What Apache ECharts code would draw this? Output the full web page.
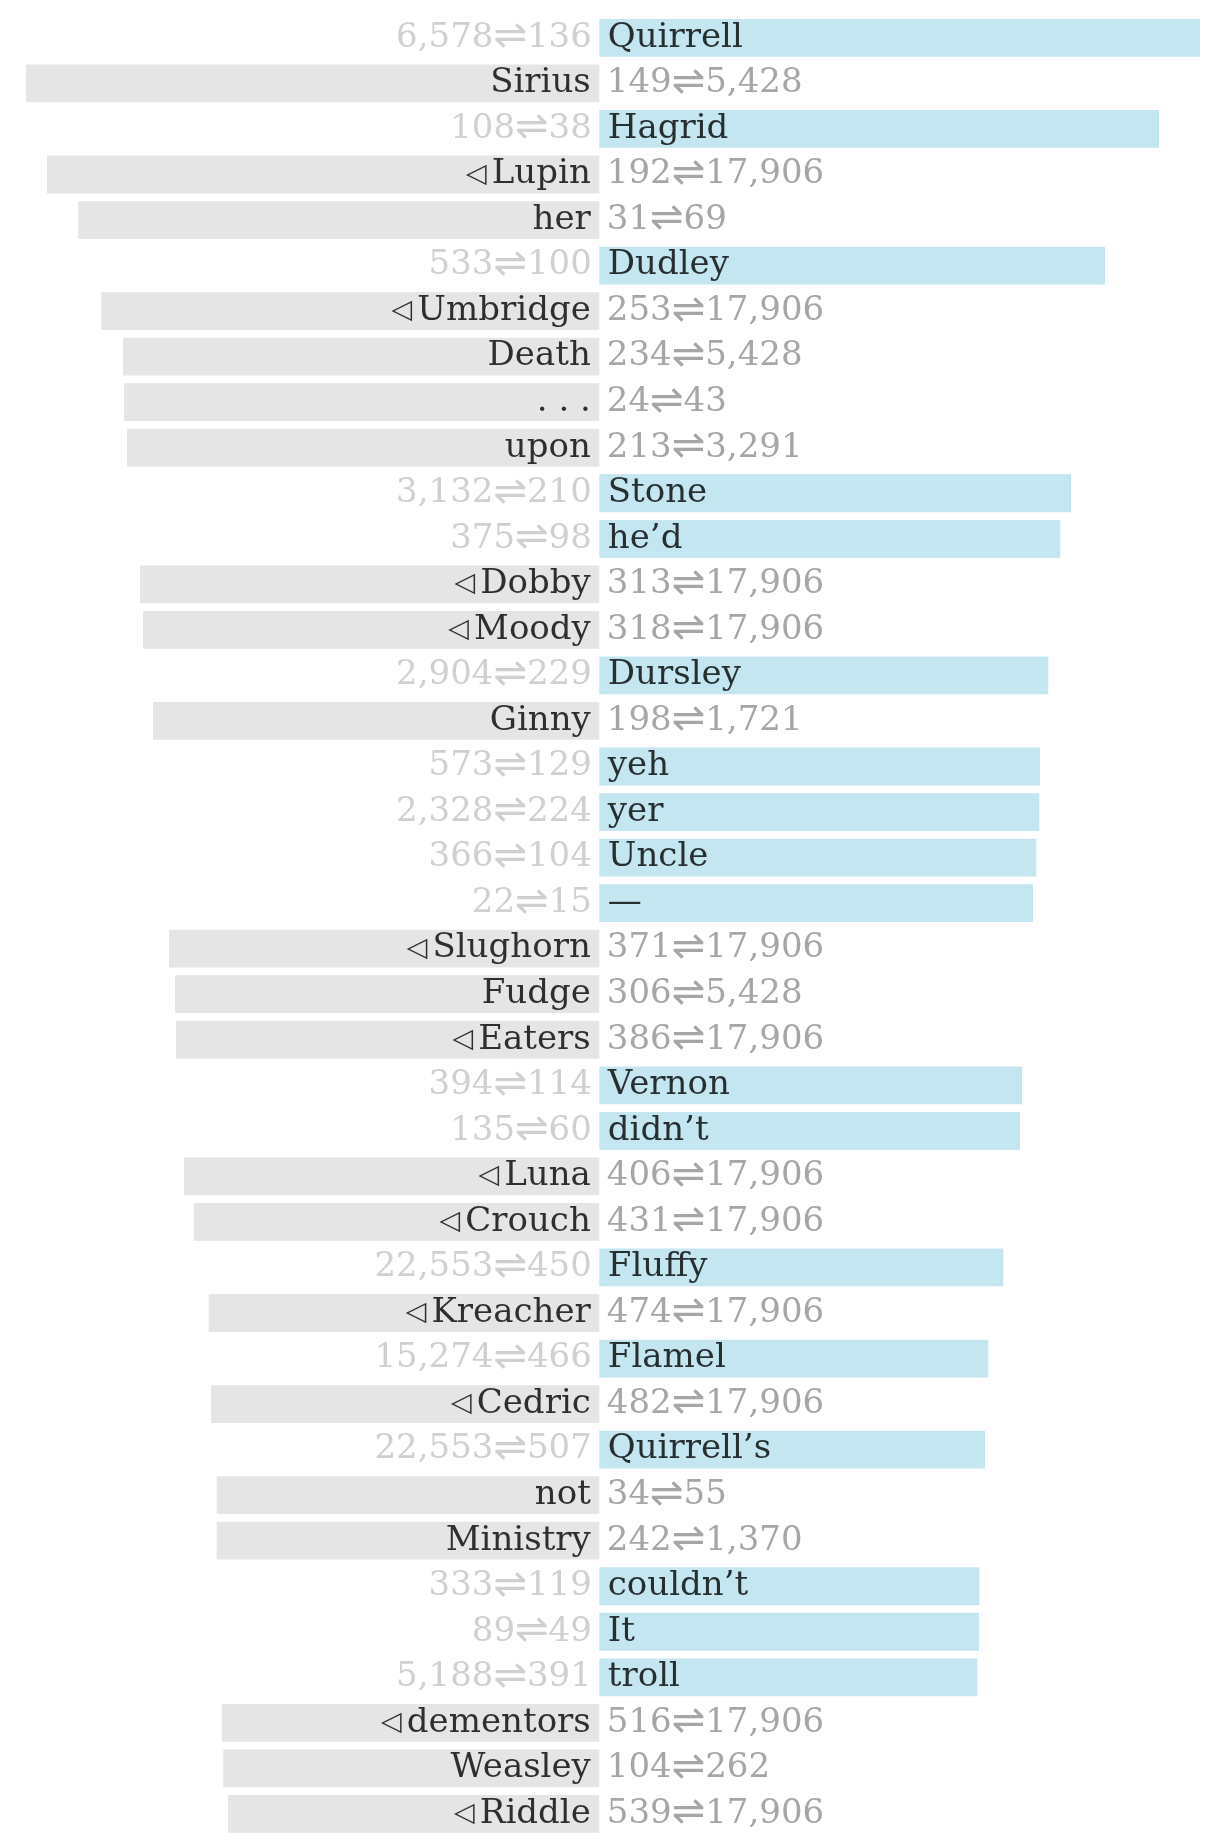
<!DOCTYPE html>
<html><head><meta charset="utf-8">
<script src="https://cdn.jsdelivr.net/npm/echarts@6/dist/echarts.min.js"></script>
<style>html,body{margin:0;padding:0;background:#fff}#c{width:1210px;height:1843px}</style>
</head><body><div id="c"></div>
<script>
// Words (rows top to bottom)
var words = ['Quirrell','Sirius','Hagrid','Lupin','her','Dudley','Umbridge','Death','. . .','upon',
  'Stone','he\u2019d','Dobby','Moody','Dursley','Ginny','yeh','yer','Uncle','\u2014',
  'Slughorn','Fudge','Eaters','Vernon','didn\u2019t','Luna','Crouch','Fluffy','Kreacher','Flamel',
  'Cedric','Quirrell\u2019s','not','Ministry','couldn\u2019t','It','troll','dementors','Weasley','Riddle'];
// 1 = word carries the ◁ marker
var marked = [0,0,0,1,0,0,1,0,0,0, 0,0,1,1,0,0,0,0,0,0, 1,0,1,0,0,1,1,0,1,0, 1,0,0,0,0,0,0,1,0,1];
// signed scores: positive = blue (right), negative = grey (left)
var scores = [6.007,-5.733,5.597,-5.523,-5.21,5.057,-4.98,-4.763,-4.753,-4.723,
  4.717,4.61,-4.593,-4.563,4.49,-4.463,4.407,4.40,4.37,4.337,
  -4.303,-4.243,-4.233,4.227,4.207,-4.153,-4.056,4.04,-3.906,3.89,
  -3.883,3.857,-3.826,-3.826,3.80,3.797,3.78,-3.776,-3.76,-3.713];
// rank pairs  rankA ⇌ rankB
var rankA = [6578,149,108,192,31,533,253,234,24,213, 3132,375,313,318,2904,198,573,2328,366,22,
  371,306,386,394,135,406,431,22553,474,15274, 482,22553,34,242,333,89,5188,516,104,539];
var rankB = [136,5428,38,17906,69,100,17906,5428,43,3291, 210,98,17906,17906,229,1721,129,224,104,15,
  17906,5428,17906,114,60,17906,17906,450,17906,466, 17906,507,55,1370,119,49,391,17906,262,17906];

var FONT = '"DejaVu Serif", "Liberation Serif", serif';
var BLUE = '#c3e6f1', GREY = '#e5e5e5';
var fmt = function(n){ return n.toLocaleString('en-US'); };
var cats = words.map(function(w,i){ return 'r'+i; });

var barData = scores.map(function(v,i){
  return { value: v, itemStyle: { color: v > 0 ? BLUE : GREY } };
});
var wordData = scores.map(function(v,i){
  return { value: [0, cats[i]],
    label: { position: v > 0 ? 'right' : 'left',
      formatter: (marked[i] ? '{t|\u25C1}' : '') + words[i] } };
});
var rankData = scores.map(function(v,i){
  var c = v > 0 ? '#c4c4c4' : '#909090';
  return { value: [0, cats[i]],
    label: { position: v > 0 ? 'left' : 'right', color: c,
      formatter: '{n|' + fmt(rankA[i]) + '}{a|\u21CC}{n|' + fmt(rankB[i]) + '}',
      rich: {
        n: { fontFamily: FONT, fontSize: 34, color: c },
        a: { fontFamily: '"DejaVu Sans", sans-serif', fontSize: 40, color: c }
      } } };
});

var chart = echarts.init(document.getElementById('c'), null, {renderer:'canvas'});
chart.setOption({
  animation: false,
  grid: { left: 0, right: 0, top: 15.1, height: 1821.6, containLabel: false },
  xAxis: { type: 'value', min: -5.993, max: 6.107, show: false },
  yAxis: { type: 'category', data: cats, inverse: true, show: false },
  series: [
    { type: 'bar', data: barData, barWidth: 37.8, barGap: '-100%', silent: true },
    { type: 'scatter', data: wordData, symbolSize: 1, itemStyle: { color: 'rgba(0,0,0,0)' },
      label: { show: true, distance: 8, color: '#000', fontFamily: FONT, fontSize: 34,
        rich: { t: { fontFamily: '"DejaVu Sans", sans-serif', fontSize: 27, color: '#000', padding: [0,5,0,0] } } } },
    { type: 'scatter', data: rankData, symbolSize: 1, itemStyle: { color: 'rgba(0,0,0,0)' },
      label: { show: true, distance: 7, fontFamily: FONT, fontSize: 34 } }
  ]
});
</script></body></html>
